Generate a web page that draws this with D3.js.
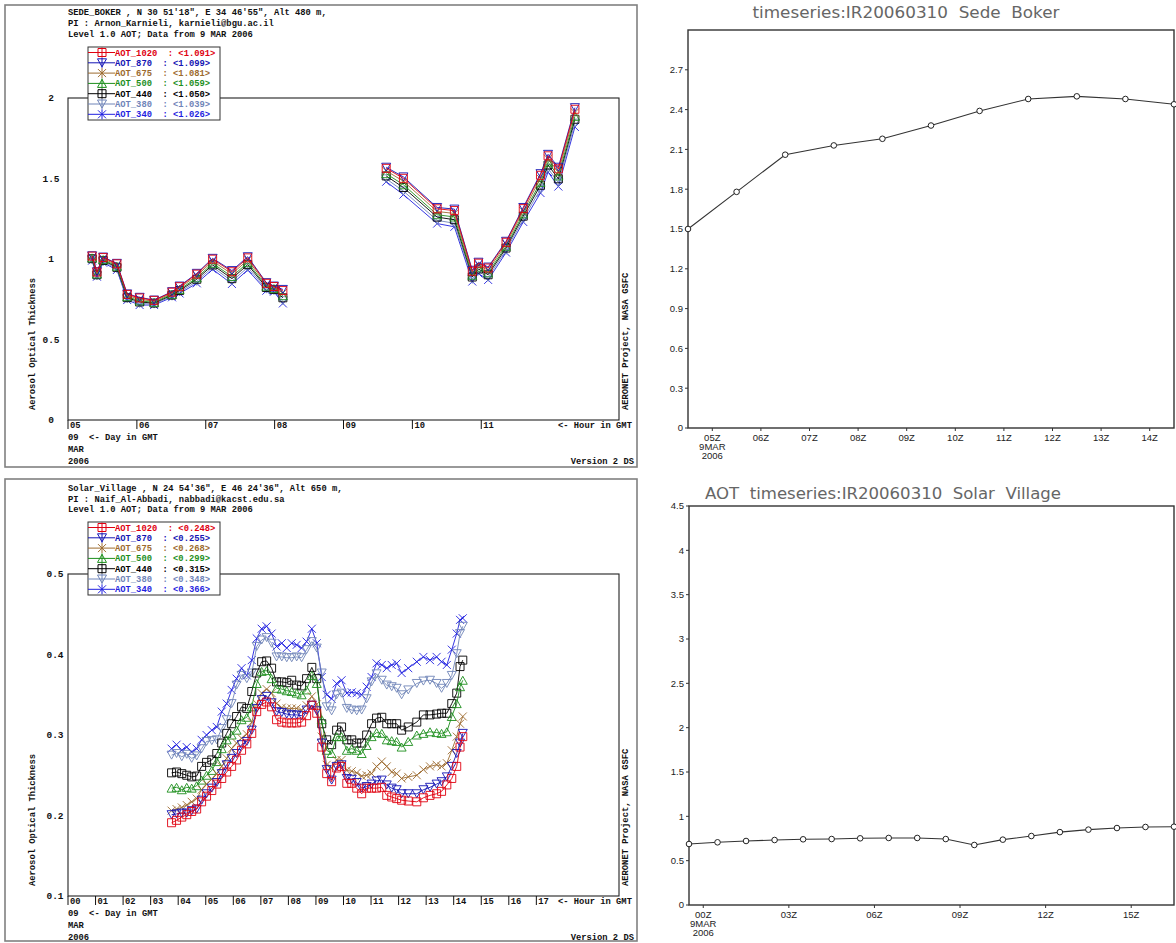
<!DOCTYPE html>
<html><head><meta charset="utf-8">
<script src="https://cdn.jsdelivr.net/npm/d3@7"></script>
<style>body{margin:0;background:#fff} svg{display:block}</style>
</head><body>
<svg id="c" width="1176" height="943"></svg>
<script>
// ---------- DATA ----------
const wavelengths = ["AOT_1020","AOT_870","AOT_675","AOT_500","AOT_440","AOT_380","AOT_340"];

// Sede Boker (Level 1.0 AOT, 9 MAR 2006), hours GMT
const sbTimes = [5.35,5.42,5.51,5.71,5.86,6.04,6.25,6.51,6.62,6.87,7.10,7.38,7.61,7.88,7.99,8.12,
  9.62,9.87,10.36,10.61,10.87,10.96,11.10,11.36,11.61,11.86,11.97,12.12,12.36];
const sb1020 = [1.018,0.919,1.009,0.970,0.780,0.758,0.743,0.794,0.828,0.906,0.999,0.921,1.007,0.849,0.829,0.804,
  1.563,1.501,1.312,1.301,0.924,0.974,0.944,1.104,1.313,1.520,1.641,1.560,1.930];
const sb870 = [1.020,0.921,1.012,0.973,0.783,0.762,0.745,0.797,0.832,0.911,1.004,0.928,1.014,0.853,0.832,0.811,
  1.570,1.510,1.320,1.310,0.930,0.980,0.950,1.110,1.320,1.530,1.650,1.570,1.940];
const sb675 = [1.013,0.913,1.003,0.963,0.774,0.750,0.737,0.788,0.821,0.896,0.987,0.907,0.994,0.841,0.823,0.789,
  1.548,1.483,1.295,1.283,0.913,0.963,0.930,1.093,1.298,1.500,1.623,1.540,1.910];
const sb500 = [1.007,0.907,0.996,0.955,0.766,0.740,0.731,0.781,0.811,0.883,0.973,0.891,0.977,0.831,0.816,0.772,
  1.530,1.461,1.275,1.261,0.899,0.949,0.914,1.079,1.280,1.476,1.601,1.516,1.886];
const sb440 = [1.002,0.902,0.991,0.948,0.760,0.733,0.726,0.776,0.804,0.874,0.963,0.878,0.965,0.823,0.811,0.759,
  1.516,1.444,1.260,1.244,0.888,0.938,0.902,1.068,1.266,1.458,1.584,1.498,1.868];
const sb380 = [0.996,0.896,0.984,0.940,0.753,0.724,0.720,0.769,0.795,0.861,0.950,0.862,0.948,0.813,0.804,0.741,
  1.498,1.422,1.240,1.222,0.874,0.924,0.886,1.054,1.248,1.434,1.562,1.474,1.844];
const sb340 = [0.990,0.890,0.977,0.932,0.745,0.714,0.714,0.762,0.786,0.849,0.936,0.845,0.932,0.803,0.797,0.724,
  1.480,1.400,1.220,1.200,0.860,0.910,0.870,1.040,1.230,1.410,1.540,1.450,1.820];
const sbMeans = ["1.091","1.099","1.081","1.059","1.050","1.039","1.026"];

// Solar Village
const svTimes = [3.76,3.94,4.13,4.31,4.49,4.67,4.85,5.03,5.22,5.40,5.58,5.76,5.94,6.12,6.30,6.49,6.67,6.85,7.03,7.21,
  7.39,7.57,7.76,7.94,8.12,8.30,8.48,8.66,8.85,9.03,9.21,9.39,9.57,9.75,9.93,10.12,10.30,10.48,10.66,10.84,
  11.02,11.20,11.39,11.57,11.75,11.93,12.11,12.35,12.66,12.90,13.14,13.38,13.56,13.75,13.93,14.11,14.23,14.33];
const sv340 = [0.283,0.288,0.281,0.285,0.279,0.283,0.294,0.300,0.306,0.310,0.329,0.339,0.356,0.370,0.383,0.374,0.393,0.420,0.432,0.435,
  0.426,0.410,0.414,0.408,0.414,0.412,0.408,0.416,0.432,0.414,0.372,0.350,0.345,0.364,0.368,0.352,0.353,0.352,0.350,0.360,
  0.372,0.389,0.387,0.383,0.387,0.389,0.377,0.383,0.391,0.397,0.393,0.397,0.391,0.387,0.406,0.426,0.443,0.445];
const sv380 = [0.275,0.277,0.273,0.276,0.271,0.274,0.283,0.292,0.293,0.294,0.308,0.319,0.339,0.362,0.374,0.370,0.377,0.410,0.418,0.421,
  0.414,0.397,0.397,0.396,0.396,0.397,0.396,0.406,0.416,0.408,0.377,0.335,0.330,0.350,0.352,0.333,0.331,0.330,0.331,0.345,
  0.366,0.376,0.368,0.362,0.360,0.358,0.350,0.356,0.364,0.367,0.368,0.364,0.358,0.364,0.374,0.401,0.426,0.435];
const sv440 = [0.253,0.254,0.252,0.250,0.248,0.249,0.261,0.266,0.269,0.277,0.290,0.302,0.314,0.323,0.335,0.333,0.354,0.377,0.391,0.392,
  0.383,0.366,0.366,0.365,0.368,0.362,0.361,0.370,0.384,0.370,0.314,0.294,0.288,0.306,0.310,0.294,0.294,0.290,0.290,0.300,
  0.314,0.321,0.322,0.314,0.314,0.314,0.306,0.310,0.316,0.325,0.325,0.326,0.327,0.327,0.339,0.352,0.385,0.393];
const sv500 = [0.234,0.235,0.232,0.235,0.234,0.237,0.244,0.250,0.256,0.267,0.283,0.294,0.300,0.306,0.319,0.322,0.335,0.364,0.379,0.380,
  0.370,0.358,0.357,0.355,0.354,0.352,0.350,0.356,0.374,0.364,0.319,0.281,0.277,0.298,0.298,0.281,0.283,0.281,0.277,0.287,
  0.298,0.303,0.302,0.294,0.293,0.292,0.285,0.292,0.300,0.302,0.304,0.303,0.302,0.304,0.323,0.339,0.360,0.368];
const sv675 = [0.206,0.208,0.210,0.213,0.217,0.221,0.232,0.239,0.245,0.252,0.261,0.271,0.283,0.290,0.296,0.301,0.316,0.339,0.352,0.357,
  0.352,0.339,0.334,0.333,0.333,0.333,0.331,0.337,0.348,0.338,0.298,0.263,0.259,0.269,0.269,0.256,0.255,0.253,0.249,0.250,
  0.252,0.261,0.267,0.261,0.254,0.252,0.246,0.248,0.250,0.257,0.261,0.263,0.261,0.265,0.281,0.298,0.314,0.323];
const sv870 = [0.201,0.202,0.203,0.203,0.206,0.208,0.219,0.227,0.234,0.241,0.252,0.263,0.271,0.277,0.288,0.292,0.306,0.333,0.344,0.348,
  0.340,0.329,0.328,0.326,0.325,0.325,0.324,0.331,0.337,0.330,0.290,0.257,0.244,0.261,0.263,0.246,0.245,0.241,0.234,0.236,
  0.239,0.243,0.244,0.238,0.234,0.232,0.227,0.227,0.227,0.232,0.235,0.239,0.242,0.248,0.261,0.277,0.290,0.302];
const sv1020 = [0.191,0.194,0.198,0.201,0.205,0.208,0.217,0.224,0.231,0.239,0.246,0.254,0.261,0.269,0.281,0.289,0.302,0.329,0.338,0.341,
  0.335,0.319,0.316,0.315,0.315,0.315,0.316,0.324,0.337,0.327,0.285,0.252,0.242,0.259,0.261,0.240,0.240,0.234,0.227,0.234,
  0.234,0.234,0.235,0.225,0.223,0.221,0.219,0.218,0.217,0.222,0.225,0.227,0.230,0.238,0.246,0.261,0.285,0.298];
const svMeans = ["0.248","0.255","0.268","0.299","0.315","0.348","0.366"];

// Right: model time series
const rbHours = [4.5,5.5,6.5,7.5,8.5,9.5,10.5,11.5,12.5,13.5,14.5];
const rbAot = [1.50,1.78,2.06,2.13,2.18,2.28,2.39,2.48,2.50,2.48,2.44];
const rvHours = [-0.5,0.5,1.5,2.5,3.5,4.5,5.5,6.5,7.5,8.5,9.5,10.5,11.5,12.5,13.5,14.5,15.5,16.5];
const rvAot = [0.688,0.707,0.722,0.733,0.741,0.744,0.752,0.756,0.756,0.744,0.677,0.737,0.778,0.822,0.850,0.868,0.880,0.883];

const sbTicks = [5,6,7,8,9,10,11];
const sbYTicks = [0,0.5,1,1.5,2];
const svTicks = [0,1,2,3,4,5,6,7,8,9,10,11,12,13,14,15,16,17];
const svYTicks = [0.1,0.2,0.3,0.4,0.5];
const rbXTicks = [5,6,7,8,9,10,11,12,13,14];
const rbYTicks = [0,0.3,0.6,0.9,1.2,1.5,1.8,2.1,2.4,2.7];
const rvXTicks = [0,3,6,9,12,15];
const rvYTicks = [0,0.5,1,1.5,2,2.5,3,3.5,4,4.5];

// ---------- STYLE ----------
const colors = ["#e00010","#1414b4","#9c6a2e","#1d8f1d","#000000","#6f84b8","#1f1fe0"];
const shapes = ["square","tridown","x","triup","square","tridown","x"];
const mono = "'Liberation Mono', 'DejaVu Sans Mono', monospace";
const sans = "'Liberation Sans', Arial, sans-serif";

const svg = d3.select("#c");
svg.append("rect").attr("width",1176).attr("height",943).attr("fill","#fff");

function markerPath(shape){
  switch(shape){
    case "square": return "M-4,-4h8v8h-8z";
    case "tridown": return "M-4.5,-4L4.5,-4L0,4Z";
    case "triup": return "M-4.5,4L4.5,4L0,-4Z";
    default: return "M-4,-4L4,4M-4,4L4,-4";
  }
}

function aeronetPanel(cfg){
  const g = svg.append("g");
  const P = cfg.plot;
  g.append("rect").attr("x",cfg.frame[0]).attr("y",cfg.frame[1])
    .attr("width",cfg.frame[2]-cfg.frame[0]).attr("height",cfg.frame[3]-cfg.frame[1])
    .attr("fill","none").attr("stroke","#808080").attr("stroke-width",1.6);
  const x = d3.scaleLinear().domain(cfg.xDomain).range([P.left,P.right]);
  const y = d3.scaleLinear().domain(cfg.yDomain).range([P.bottom,P.top]);
  g.append("rect").attr("x",P.left).attr("y",P.top).attr("width",P.right-P.left).attr("height",P.bottom-P.top)
    .attr("fill","none").attr("stroke","#222").attr("stroke-width",1.1);

  const txt = (sel)=>sel.attr("font-family",mono).attr("font-weight","bold").attr("font-size","8.8px")
      .attr("fill","#111").style("white-space","pre");
  cfg.header.forEach((t,i)=>{
    g.append("text").attr("x",P.left).attr("y",cfg.headerY[i]).text(t).call(txt);
  });
  cfg.yTicks.forEach(v=>{
    g.append("text").attr("x",cfg.yLabelX).attr("y",y(v)+3).attr("text-anchor","middle").text(d3.format("")(v)).call(txt).attr("font-size","9.5px");
  });
  cfg.xTicks.forEach(h=>{
    g.append("line").attr("x1",x(h)).attr("x2",x(h)).attr("y1",P.bottom).attr("y2",P.bottom+9)
      .attr("stroke","#111").attr("stroke-width",1);
    g.append("text").attr("x",x(h)+2).attr("y",P.bottom+8).text(d3.format("02d")(h)).call(txt);
  });
  g.append("text").attr("x",558).attr("y",P.bottom+8).text("<- Hour in GMT").call(txt);
  g.append("text").attr("x",P.left).attr("y",P.bottom+20).text("09  <- Day in GMT").call(txt);
  g.append("text").attr("x",P.left).attr("y",P.bottom+32).text("MAR").call(txt);
  g.append("text").attr("x",P.left).attr("y",P.bottom+44).text("2006").call(txt);
  g.append("text").attr("x",634).attr("y",P.bottom+44).attr("text-anchor","end").text("Version 2 DS").call(txt);
  g.append("text").attr("transform",`translate(35,${P.bottom-10}) rotate(-90)`).text("Aerosol Optical Thickness").call(txt);
  g.append("text").attr("transform",`translate(628,${P.bottom-10}) rotate(-90)`).text("AERONET Project, NASA GSFC").call(txt);

  const line = d3.line().x(d=>x(d.t)).y(d=>y(d.v));
  for(let i=cfg.series.length-1;i>=0;i--){
    const pts = cfg.times.map((t,k)=>({t:t,v:cfg.series[i][k]}));
    const segs = []; let cur=[];
    pts.forEach((p,k)=>{ if(k>0 && p.t-pts[k-1].t>0.8){segs.push(cur);cur=[];} cur.push(p); });
    segs.push(cur);
    segs.forEach(s=>g.append("path").attr("d",line(s)).attr("fill","none").attr("stroke",colors[i]).attr("stroke-width",0.9));
    g.selectAll(null).data(pts).enter().append("path")
      .attr("transform",d=>`translate(${x(d.t)},${y(d.v)})`).attr("d",markerPath(shapes[i]))
      .attr("fill","none").attr("stroke",colors[i]).attr("stroke-width",0.9);
  }

  const L = cfg.legend;
  g.append("rect").attr("x",L.x).attr("y",L.y).attr("width",132).attr("height",73)
    .attr("fill","#fff").attr("stroke","#333").attr("stroke-width",1);
  wavelengths.forEach((w,i)=>{
    const cy = L.y+5.5+i*10.3;
    g.append("line").attr("x1",L.x).attr("x2",L.x+27).attr("y1",cy).attr("y2",cy).attr("stroke",colors[i]).attr("stroke-width",1);
    g.append("line").attr("x1",L.x+14).attr("x2",L.x+14).attr("y1",cy-5).attr("y2",cy+5).attr("stroke",colors[i]).attr("stroke-width",1);
    g.append("path").attr("transform",`translate(${L.x+14},${cy})`).attr("d",markerPath(shapes[i]))
      .attr("fill","none").attr("stroke",colors[i]).attr("stroke-width",1);
    g.append("text").attr("x",L.x+27).attr("y",cy+3).text(`${w}  : <${cfg.means[i]}>`).call(txt).attr("fill",colors[i]);
  });
}

aeronetPanel({
  frame:[5,5,637,467], plot:{left:68,right:619,top:98,bottom:420},
  xDomain:[5,13], yDomain:[0,2], xTicks:sbTicks, yTicks:sbYTicks, yLabelX:51,
  header:["SEDE_BOKER , N 30 51'18\", E 34 46'55\", Alt 480 m,","PI : Arnon_Karnieli, karnieli@bgu.ac.il","Level 1.0 AOT; Data from 9 MAR 2006"],
  headerY:[15,26,36.5], legend:{x:88,y:47}, means:sbMeans,
  times:sbTimes, series:[sb1020,sb870,sb675,sb500,sb440,sb380,sb340]
});
aeronetPanel({
  frame:[5,479,637,941], plot:{left:68,right:619,top:574,bottom:896},
  xDomain:[0,20], yDomain:[0.1,0.5], xTicks:svTicks, yTicks:svYTicks, yLabelX:55,
  header:["Solar_Village , N 24 54'36\", E 46 24'36\", Alt 650 m,","PI : Naif_Al-Abbadi, nabbadi@kacst.edu.sa","Level 1.0 AOT; Data from 9 MAR 2006"],
  headerY:[490.5,501.5,512], legend:{x:88,y:522}, means:svMeans,
  times:svTimes, series:[sv1020,sv870,sv675,sv500,sv440,sv380,sv340]
});

function gradsPanel(cfg){
  const g = svg.append("g");
  const P = cfg.plot;
  const x = d3.scaleLinear().domain(cfg.xDomain).range([P.left,P.right]);
  const y = d3.scaleLinear().domain(cfg.yDomain).range([P.bottom,P.top]);
  g.append("text").attr("x",cfg.titleX).attr("y",cfg.titleY).attr("text-anchor","middle")
    .attr("font-family","'DejaVu Sans', sans-serif").attr("font-size","15px").attr("fill","#666")
    .attr("textLength",cfg.titleLen).attr("lengthAdjust","spacingAndGlyphs").style("white-space","pre").text(cfg.title);
  g.append("rect").attr("x",P.left).attr("y",P.top).attr("width",P.right-P.left).attr("height",P.bottom-P.top)
    .attr("fill","none").attr("stroke","#333").attr("stroke-width",1.4);
  const lab = sel=>sel.attr("font-family",sans).attr("font-size","9.5px").attr("fill","#222");
  cfg.yTicks.forEach(v=>{
    g.append("line").attr("x1",P.left-3).attr("x2",P.left).attr("y1",y(v)).attr("y2",y(v)).attr("stroke","#333");
    g.append("text").attr("x",P.left-5).attr("y",y(v)+3.3).attr("text-anchor","end").text(d3.format("")(v)).call(lab);
  });
  cfg.xTicks.forEach((h,i)=>{
    g.append("line").attr("x1",x(h)).attr("x2",x(h)).attr("y1",P.bottom).attr("y2",P.bottom+3).attr("stroke","#333");
    g.append("text").attr("x",x(h)).attr("y",P.bottom+13).attr("text-anchor","middle").text(d3.format("02d")(h)+"Z").call(lab);
    if(i===0){
      g.append("text").attr("x",x(h)).attr("y",P.bottom+22).attr("text-anchor","middle").text("9MAR").call(lab);
      g.append("text").attr("x",x(h)).attr("y",P.bottom+31).attr("text-anchor","middle").text("2006").call(lab);
    }
  });
  const pts = cfg.hours.map((h,k)=>({t:h,v:cfg.values[k]}));
  g.append("path").attr("d",d3.line().x(d=>x(d.t)).y(d=>y(d.v))(pts)).attr("fill","none").attr("stroke","#333").attr("stroke-width",1.1);
  g.selectAll(null).data(pts).enter().append("circle").attr("cx",d=>x(d.t)).attr("cy",d=>y(d.v)).attr("r",2.8)
    .attr("fill","#fff").attr("stroke","#222").attr("stroke-width",1);
}

gradsPanel({
  plot:{left:688,right:1174,top:30,bottom:428}, xDomain:[4.5,14.5], yDomain:[0,3],
  xTicks:rbXTicks, yTicks:rbYTicks, hours:rbHours, values:rbAot,
  title:"timeseries:IR20060310  Sede  Boker", titleX:906, titleY:18, titleLen:307
});
gradsPanel({
  plot:{left:689,right:1174,top:506,bottom:905}, xDomain:[-0.5,16.5], yDomain:[0,4.5],
  xTicks:rvXTicks, yTicks:rvYTicks, hours:rvHours, values:rvAot,
  title:"AOT  timeseries:IR20060310  Solar  Village", titleX:883, titleY:499, titleLen:356
});
</script>
</body></html>
